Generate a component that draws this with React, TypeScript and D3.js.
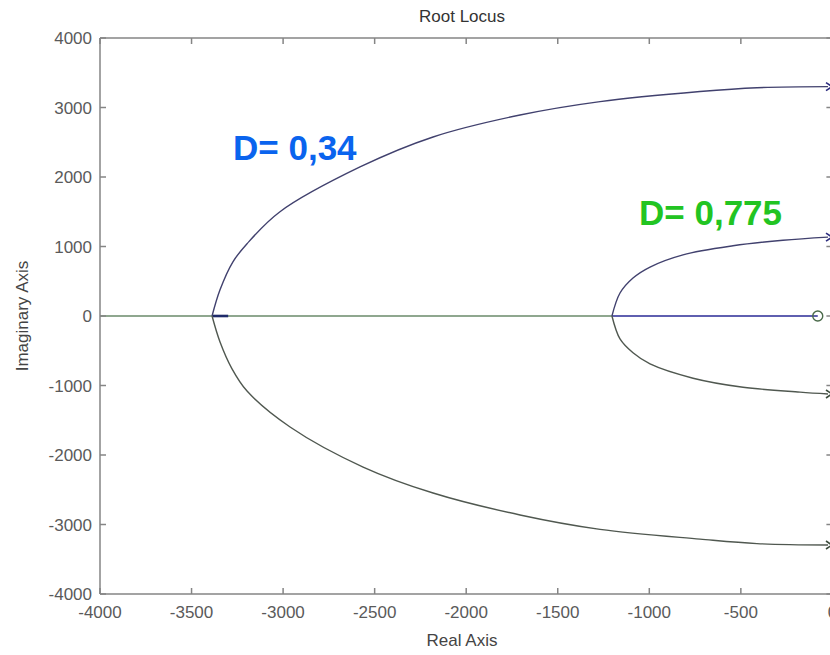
import React from "react";
import * as d3 from "d3";

const xTicks = [-4000, -3500, -3000, -2500, -2000, -1500, -1000, -500, 0];
const yTicks = [4000, 3000, 2000, 1000, 0, -1000, -2000, -3000, -4000];

const outerUpperX = [-3388, -3345, -3274, -3197, -3017, -2580, -2181, -1706, -1269, -723, -412, -24];
const outerUpperY = [0, 374, 780, 1040, 1500, 2144, 2576, 2892, 3085, 3230, 3285, 3300];
const outerLowerX = [-3388, -3345, -3279, -3197, -2962, -2563, -2181, -1706, -1269, -723, -412, -24];
const outerLowerY = [0, -370, -760, -1080, -1597, -2173, -2547, -2863, -3070, -3210, -3275, -3295];
const innerUpperX = [-1204, -1160, -1089, -996, -816, -543, -270, -24];
const innerUpperY = [0, 331, 547, 705, 880, 1010, 1090, 1135];
const innerLowerX = [-1204, -1160, -1089, -996, -761, -488, -177, -24];
const innerLowerY = [0, -330, -530, -690, -895, -1025, -1095, -1122];
const breakawayInner = -1204;
const zeroX = -80;
const poleSegment = [-3388, -3300];

const W = 830, H = 655;
const L = 100, R = 832.4, T = 38, B = 594;

export default function App() {
  const x = d3.scaleLinear().domain([-4000, 0]).range([L, R]);
  const y = d3.scaleLinear().domain([-4000, 4000]).range([B, T]);
  const line = d3.line<[number, number]>().x(d => x(d[0])).y(d => y(d[1])).curve(d3.curveCatmullRom.alpha(0.5));
  const zip = (a: number[], b: number[]) => a.map((v, i) => [v, b[i]] as [number, number]);

  const branches = [
    { xs: outerUpperX, ys: outerUpperY, color: "#41416e", arrow: "#2e2e80" },
    { xs: outerLowerX, ys: outerLowerY, color: "#505850", arrow: "#3a4a3a" },
    { xs: innerUpperX, ys: innerUpperY, color: "#41416e", arrow: "#2e2e80" },
    { xs: innerLowerX, ys: innerLowerY, color: "#505850", arrow: "#3a4a3a" },
  ];

  const font = "Arial, 'Liberation Sans', sans-serif";
  const axisColor = "#858585";
  const textColor = "#5a5a5a";

  return (
    <svg width={W} height={H} style={{ position: "absolute", left: 0, top: 0, background: "#fff" }}>
      <rect x={0} y={0} width={W} height={H} fill="#fff" />
      <line x1={x(-4000)} x2={x(breakawayInner)} y1={y(0)} y2={y(0)} stroke="#6a8a6a" strokeWidth={1.6} />
      <line x1={x(breakawayInner)} x2={x(zeroX)} y1={y(0)} y2={y(0)} stroke="#2a2a96" strokeWidth={1.6} />
      <line x1={x(poleSegment[0])} x2={x(poleSegment[1])} y1={y(0)} y2={y(0)} stroke="#1e2a6a" strokeWidth={2.6} />
      {branches.map((b, i) => {
        const pts = zip(b.xs, b.ys);
        const end = pts[pts.length - 1];
        const ex = x(end[0]), ey = y(end[1]);
        return (
          <g key={i}>
            <path d={line(pts) || ""} fill="none" stroke={b.color} strokeWidth={1.4} />
            <path d={`M${ex - 2},${ey - 4} L${ex + 4},${ey} L${ex - 2},${ey + 4}`} fill="none" stroke={b.arrow} strokeWidth={1.6} />
          </g>
        );
      })}
      <circle cx={x(zeroX)} cy={y(0)} r={5} fill="none" stroke="#4a6a4a" strokeWidth={1.4} />
      <line x1={L} x2={R} y1={T} y2={T} stroke={axisColor} strokeWidth={1.5} />
      <line x1={L} x2={R} y1={B} y2={B} stroke={axisColor} strokeWidth={1.5} />
      <line x1={L} x2={L} y1={T} y2={B} stroke={axisColor} strokeWidth={1.5} />
      <line x1={R} x2={R} y1={T} y2={B} stroke={axisColor} strokeWidth={1.5} />
      {xTicks.map(t => (
        <g key={"x" + t}>
          <line x1={x(t)} x2={x(t)} y1={B} y2={B - 6} stroke={axisColor} strokeWidth={1.5} />
          <line x1={x(t)} x2={x(t)} y1={T} y2={T + 6} stroke={axisColor} strokeWidth={1.5} />
          <text x={x(t)} y={618} textAnchor="middle" fontFamily={font} fontSize={17} fill={textColor}>{t}</text>
        </g>
      ))}
      {yTicks.map(t => (
        <g key={"y" + t}>
          <line x1={L} x2={L + 6} y1={y(t)} y2={y(t)} stroke={axisColor} strokeWidth={1.5} />
          <line x1={R} x2={R - 6} y1={y(t)} y2={y(t)} stroke={axisColor} strokeWidth={1.5} />
          <text x={92} y={y(t) + 6} textAnchor="end" fontFamily={font} fontSize={17} fill={textColor}>{t}</text>
        </g>
      ))}
      <text x={462} y={22} textAnchor="middle" fontFamily={font} fontSize={17} fill="#333">Root Locus</text>
      <text x={462} y={646} textAnchor="middle" fontFamily={font} fontSize={17} fill="#444">Real Axis</text>
      <text transform={`translate(28,${y(0)}) rotate(-90)`} textAnchor="middle" fontFamily={font} fontSize={17} fill="#444">Imaginary Axis</text>
      <text x={233} y={160} fontFamily={font} fontSize={35} fontWeight="bold" fill="#0a64ee">D= 0,34</text>
      <text x={639} y={225} fontFamily={font} fontSize={35} fontWeight="bold" fill="#22c422">D= 0,775</text>
    </svg>
  );
}
